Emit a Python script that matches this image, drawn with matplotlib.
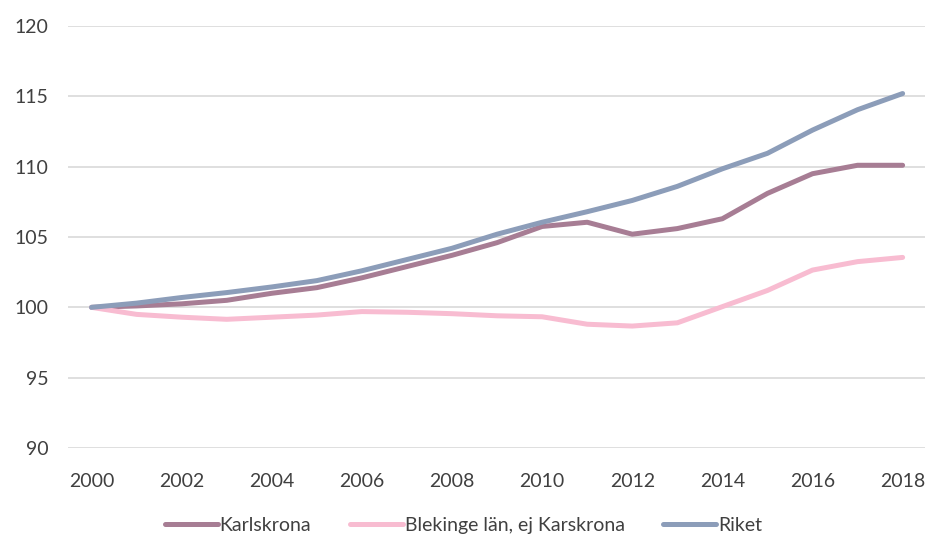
import matplotlib.pyplot as plt

years = list(range(2000, 2019))
karlskrona = [100.0, 100.1, 100.25, 100.5, 101.0, 101.4, 102.1, 102.9, 103.7, 104.6,
              105.75, 106.05, 105.2, 105.6, 106.3, 108.1, 109.5, 110.1, 110.1]
blekinge = [100.0, 99.5, 99.3, 99.15, 99.3, 99.45, 99.7, 99.65, 99.55, 99.4,
            99.33, 98.8, 98.67, 98.9, 100.05, 101.2, 102.65, 103.25, 103.55]
riket = [100.0, 100.3, 100.7, 101.05, 101.45, 101.9, 102.6, 103.4, 104.2, 105.2,
         106.05, 106.8, 107.6, 108.6, 109.85, 110.95, 112.6, 114.05, 115.2]

series = [
    ('Karlskrona', karlskrona, '#A77D94'),
    ('Blekinge län, ej Karskrona', blekinge, '#F8BCD1'),
    ('Riket', riket, '#8C9DB9'),
]

plt.rcParams['font.family'] = ['Lato', 'DejaVu Sans']

fig = plt.figure(figsize=(9.27, 5.42), dpi=100)
ax = fig.add_axes([0.073, 0.1734, 0.925, 0.7786])

for name, vals, col in series:
    ax.plot(years, vals, color=col, lw=3.6, solid_capstyle='round', label=name, zorder=3)

ax.set_ylim(90, 120)
ax.set_yticks(range(90, 121, 5))
ax.set_xlim(1999.47, 2018.5)
ax.set_xticks(years[::2])
ax.grid(axis='y', color='#D9D9D9', lw=1.2)
ax.set_axisbelow(True)
for s in ax.spines.values():
    s.set_visible(False)
ax.tick_params(length=0, labelsize=14, colors='#404040')
ax.tick_params(axis='x', pad=18)
ax.tick_params(axis='y', pad=14)

fig.legend(loc='center', bbox_to_anchor=(0.5, 0.03), ncol=3, frameon=False,
           fontsize=14, handlelength=2.7, handletextpad=0.1, columnspacing=2.0,
           labelcolor='#404040')

fig.savefig('out.png', dpi=100)
